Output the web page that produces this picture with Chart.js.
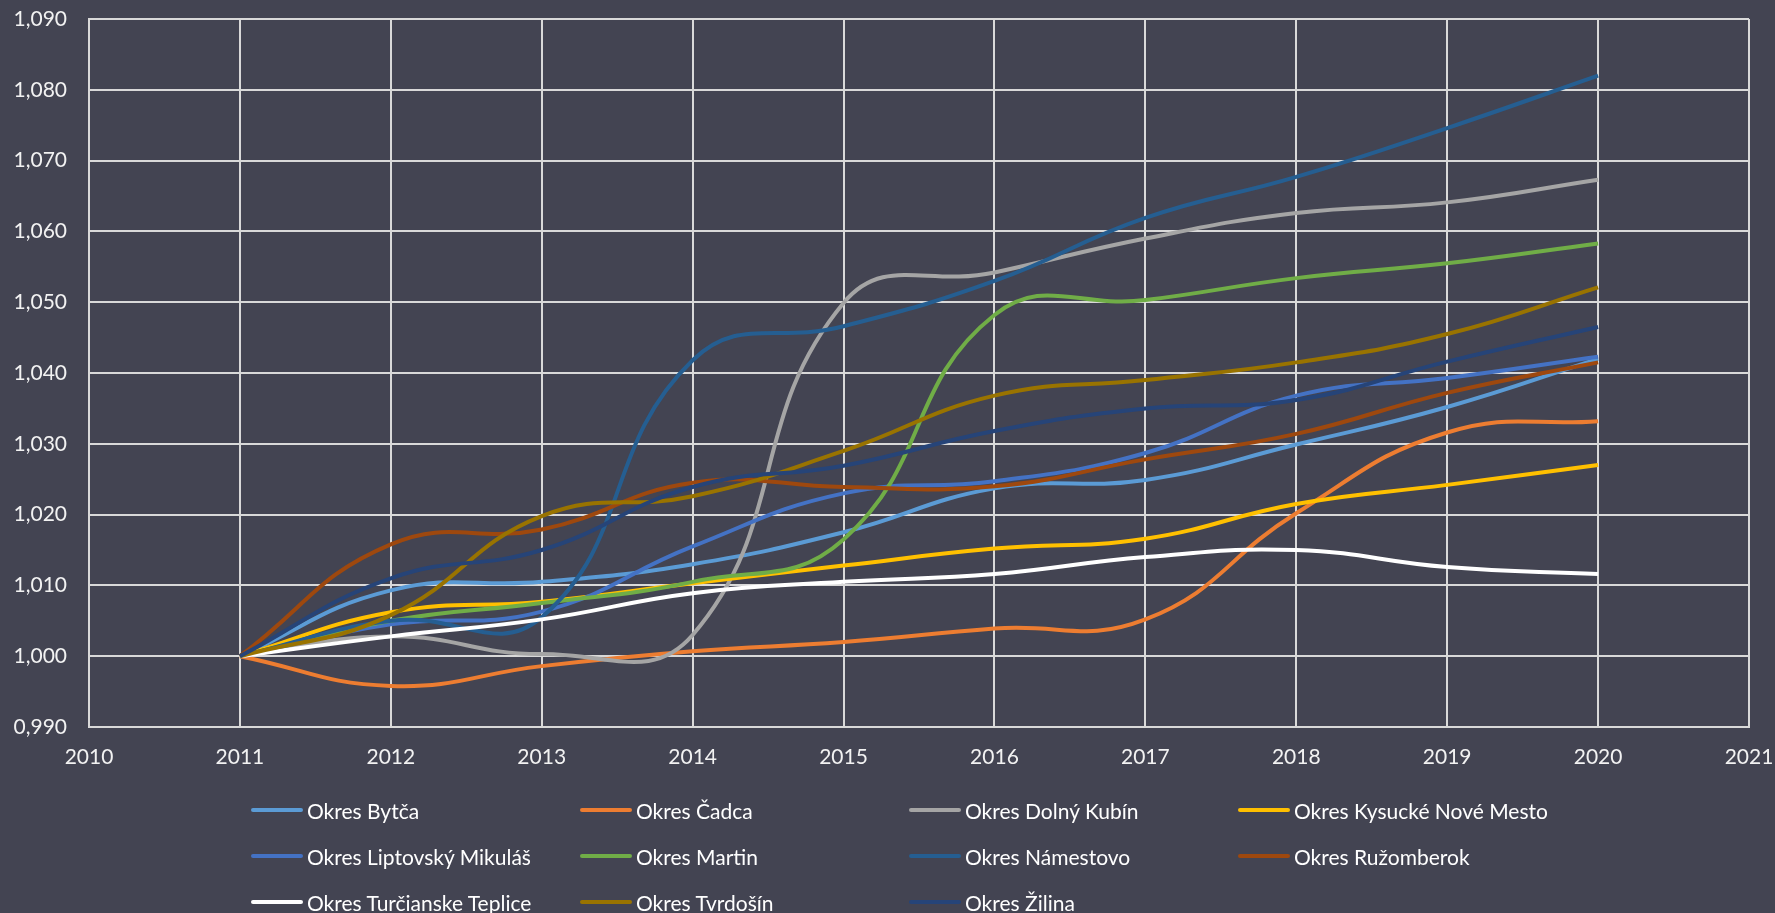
<!DOCTYPE html>
<html>
<head>
<meta charset="utf-8">
<script src="https://cdn.jsdelivr.net/npm/chart.js@4.4.1/dist/chart.umd.min.js"></script>
<style>
  html, body { margin: 0; padding: 0; background: #434452; }
  #wrap { position: relative; width: 1775px; height: 913px; background: #434452; overflow: hidden; }
  #c { position: absolute; left: 0; top: 0; }
  #legend { position: absolute; left: 251px; top: 787px; display: grid;
            grid-template-columns: 329px 329px 329px 329px; grid-auto-rows: 46px;
            font-family: Lato, "Noto Sans", sans-serif; font-size: 21px; color: #ffffff; }
  .item { display: flex; align-items: center; height: 46px; white-space: nowrap; }
  .swatch { display: inline-block; width: 52px; height: 4px; margin-right: 4px; border-radius: 2px; }
</style>
</head>
<body>
<div id="wrap">
  <canvas id="c" width="1775" height="913"></canvas>
  <div id="legend"></div>
</div>
<script>
// ---- data ----
const years = [2011, 2012, 2013, 2014, 2015, 2016, 2017, 2018, 2019, 2020];
const seriesNames = [
  "Okres Bytča", "Okres Čadca", "Okres Dolný Kubín", "Okres Kysucké Nové Mesto",
  "Okres Liptovský Mikuláš", "Okres Martin", "Okres Námestovo", "Okres Ružomberok",
  "Okres Turčianske Teplice", "Okres Tvrdošín", "Okres Žilina"
];
const bytca       = [1.000, 1.0093, 1.0105, 1.0130, 1.0175, 1.0237, 1.0249, 1.0299, 1.0352, 1.0420];
const cadca       = [1.000, 0.9958, 0.9986, 1.0007, 1.0020, 1.0039, 1.0052, 1.0202, 1.0316, 1.0332];
const dolnyKubin  = [1.000, 1.0028, 1.0003, 1.0030, 1.0499, 1.0542, 1.0590, 1.0626, 1.0641, 1.0673];
const kysucke     = [1.000, 1.0062, 1.0077, 1.0103, 1.0128, 1.0152, 1.0166, 1.0215, 1.0242, 1.0270];
const liptovsky   = [1.000, 1.0045, 1.0063, 1.0155, 1.0230, 1.0247, 1.0287, 1.0368, 1.0393, 1.0423];
const martin      = [1.000, 1.0050, 1.0075, 1.0105, 1.0165, 1.0482, 1.0503, 1.0534, 1.0555, 1.0583];
const namestovo   = [1.000, 1.0050, 1.0055, 1.0418, 1.0466, 1.0530, 1.0619, 1.0677, 1.0746, 1.0820];
const ruzomberok  = [1.000, 1.0158, 1.0179, 1.0245, 1.0239, 1.0240, 1.0278, 1.0314, 1.0372, 1.0415];
const turcianske  = [1.000, 1.0028, 1.0052, 1.0089, 1.0105, 1.0116, 1.0140, 1.0150, 1.0126, 1.0116];
const tvrdosin    = [1.000, 1.0058, 1.0198, 1.0226, 1.0290, 1.0368, 1.0390, 1.0415, 1.0455, 1.0521];
const zilina      = [1.000, 1.0110, 1.0150, 1.0239, 1.0269, 1.0318, 1.0350, 1.0362, 1.0416, 1.0465];
const seriesValues = [bytca, cadca, dolnyKubin, kysucke, liptovsky, martin, namestovo, ruzomberok, turcianske, tvrdosin, zilina];

// ---- styles ----
const seriesColors = ["#5B9BD5", "#ED7D31", "#A5A5A5", "#FFC000", "#4472C4", "#70AD47",
                      "#255E91", "#9E480E", "#FFFFFF", "#997300", "#264478"];
const FONT = { family: 'Lato, "Noto Sans", sans-serif', size: 21 };
const GRID = "#D9D9D9";

const datasets = seriesNames.map((name, i) => ({
  label: name,
  data: years.map((y, j) => ({ x: y, y: seriesValues[i][j] })),
  borderColor: seriesColors[i],
  backgroundColor: seriesColors[i],
  borderWidth: 4,
  pointRadius: 0,
  pointHoverRadius: 0,
  tension: 0.45,
  fill: false,
  order: seriesNames.length - i
}));

Chart.defaults.font.family = FONT.family;
new Chart(document.getElementById("c"), {
  type: "line",
  data: { datasets },
  options: {
    responsive: false,
    devicePixelRatio: 1,
    animation: false,
    layout: { padding: { left: 0, top: 19, right: 26, bottom: 126 } },
    plugins: { legend: { display: false }, tooltip: { enabled: false } },
    scales: {
      x: {
        type: "linear", min: 2010, max: 2021,
        afterFit: s => { s.height = 60; s.paddingLeft = 0; s.paddingRight = 0; },
        grid: { color: GRID, lineWidth: 2, drawTicks: false },
        border: { color: GRID, width: 2 },
        ticks: { stepSize: 1, color: "#F2F2F2", font: FONT, padding: 18,
                 callback: v => String(v) }
      },
      y: {
        min: 0.99, max: 1.09,
        afterFit: s => { s.width = 89; s.paddingTop = 0; s.paddingBottom = 0; },
        grid: { color: GRID, lineWidth: 2, drawTicks: false },
        border: { color: GRID, width: 2 },
        ticks: { stepSize: 0.01, color: "#F2F2F2", font: FONT, padding: 22,
                 callback: v => v.toFixed(3).replace(".", ",") }
      }
    }
  }
});

// ---- HTML legend (real text) ----
const legend = document.getElementById("legend");
seriesNames.forEach((name, i) => {
  const it = document.createElement("div");
  it.className = "item";
  const sw = document.createElement("span");
  sw.className = "swatch";
  sw.style.background = seriesColors[i];
  const tx = document.createElement("span");
  tx.textContent = name;
  it.appendChild(sw); it.appendChild(tx);
  legend.appendChild(it);
});
</script>
</body>
</html>
